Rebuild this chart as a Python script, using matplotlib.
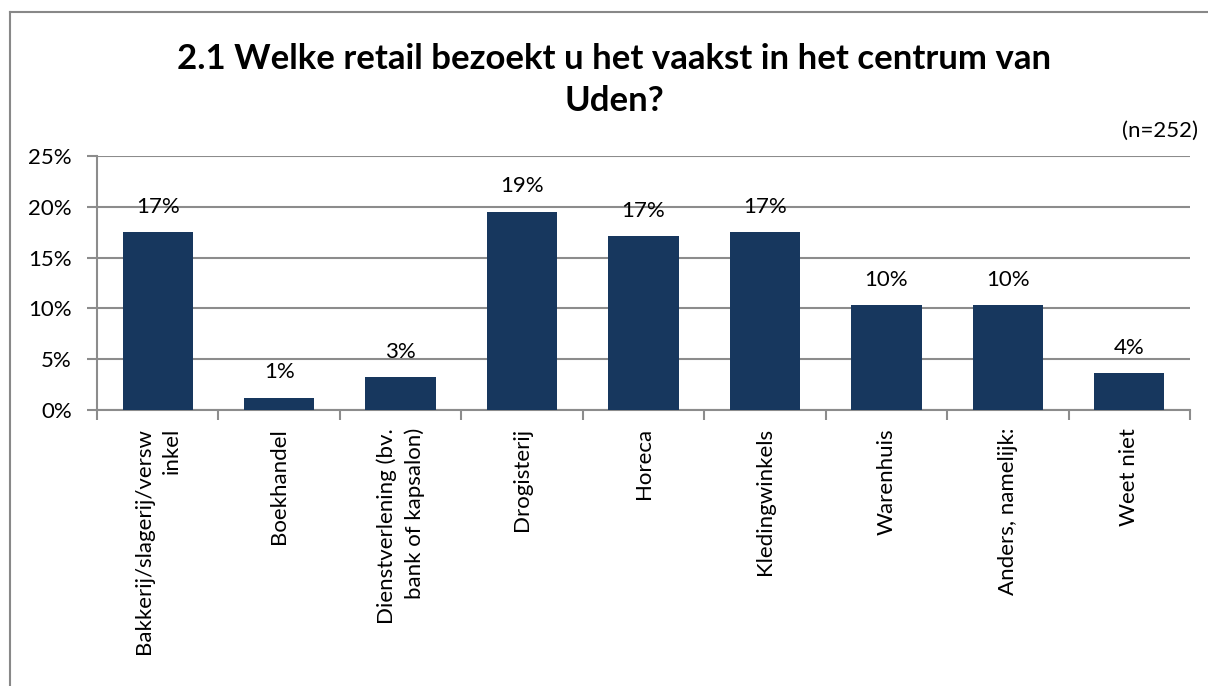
#!/usr/bin/env python3
# -*- coding: utf-8 -*-

"""Bar chart: welke retail bezoekt u het vaakst in het centrum van Uden."""

import matplotlib
matplotlib.use("Agg")
import matplotlib.pyplot as plt
from matplotlib.lines import Line2D
import numpy as np

CATEGORIES = [
    "Bakkerij/slagerij/versw\ninkel",
    "Boekhandel",
    "Dienstverlening (bv.\nbank of kapsalon)",
    "Drogisterij",
    "Horeca",
    "Kledingwinkels",
    "Warenhuis",
    "Anders, namelijk:",
    "Weet niet",
]
VALUES = [17.5, 1.2, 3.2, 19.5, 17.1, 17.5, 10.3, 10.3, 3.6]
LABELS = ["17%", "1%", "3%", "19%", "17%", "17%", "10%", "10%", "4%"]
Y_TICKS = [0, 5, 10, 15, 20, 25]

TITLE = "2.1 Welke retail bezoekt u het vaakst in het centrum van\nUden?"
NOTE = "(n=252)"

BAR_COLOR = "#17375E"
GRID_COLOR = "#8C8C8C"
FS = 16


def main():
    """Main function."""
    plt.rcParams["font.family"] = ["Lato", "DejaVu Sans"]
    fig = plt.figure(figsize=(12.08, 6.86), dpi=100)
    ax = fig.add_axes([97 / 1208, 1 - 410 / 686, (1190 - 97) / 1208, (410 - 156) / 686])

    x = np.arange(len(CATEGORIES))
    ax.bar(x, VALUES, width=0.58, color=BAR_COLOR, zorder=3)
    for xi, val, lab in zip(x, VALUES, LABELS):
        ax.text(xi, val + 2.5, lab, ha="center", va="center", fontsize=FS)

    ax.set_xlim(-0.5, len(CATEGORIES) - 0.5)
    ax.set_ylim(0, 25)
    ax.set_yticks(Y_TICKS)
    ax.set_yticklabels([f"{t}%" for t in Y_TICKS], fontsize=FS)
    ax.yaxis.grid(True, color=GRID_COLOR, linewidth=1.5, zorder=0)

    ax.set_xticks(x)
    ax.set_xticklabels(CATEGORIES, rotation=90, fontsize=FS,
                       multialignment="right", linespacing=1.45)
    ax.set_xticks(np.arange(-0.5, len(CATEGORIES)), minor=True)
    ax.tick_params(axis="x", which="major", length=0, pad=13)
    ax.tick_params(axis="x", which="minor", length=7, width=1.5, color=GRID_COLOR)
    ax.tick_params(axis="y", length=7, width=1.5, color=GRID_COLOR, pad=11)

    for side in ["top", "right"]:
        ax.spines[side].set_visible(False)
    for side in ["left", "bottom"]:
        ax.spines[side].set_color(GRID_COLOR)
        ax.spines[side].set_linewidth(1.5)

    fig.text(614 / 1208, 1 - 80 / 686, TITLE, ha="center", va="center",
             fontsize=25, fontweight="bold", linespacing=1.35)
    fig.text(1198 / 1208, 1 - 131 / 686, NOTE, ha="right", va="center", fontsize=FS)

    # outer chart border (left and top edges visible)
    fig.add_artist(Line2D([9.5 / 1208, 9.5 / 1208], [0, 1 - 12 / 686],
                          transform=fig.transFigure, color="#888888", linewidth=1.5))
    fig.add_artist(Line2D([9.5 / 1208, 1], [1 - 12 / 686, 1 - 12 / 686],
                          transform=fig.transFigure, color="#888888", linewidth=1.5))

    fig.savefig("out.png", dpi=100)


if __name__ == "__main__":
    main()
